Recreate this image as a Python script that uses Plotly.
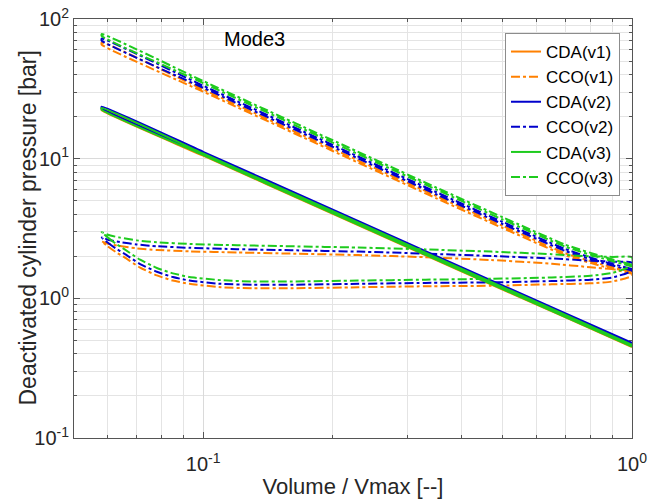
import plotly.graph_objects as go

# ---- data -------------------------------------------------------------
# volume ratio samples for the trapped-gas (CDA) strokes
v_cda = [0.058, 0.1, 0.2, 0.4, 0.7, 1.0]
cda_v1_comp = [22.8, 10.8, 4.17, 1.61, 0.750, 0.460]
cda_v1_exp = [22.2, 10.5, 4.05, 1.56, 0.730, 0.448]
cda_v2_comp = [23.6, 11.2, 4.33, 1.67, 0.780, 0.480]
cda_v2_exp = [22.9, 10.85, 4.19, 1.62, 0.755, 0.465]
cda_v3_comp = [23.1, 10.9, 4.22, 1.63, 0.760, 0.465]
cda_v3_exp = [22.4, 10.6, 4.08, 1.575, 0.735, 0.452]

# volume ratio samples for the CCO high-pressure strokes
v_cco_hp = [0.058, 0.1, 0.2, 0.35, 0.5, 0.7, 0.85, 1.0]
cco_v1_hp_a = [68.0, 31.3, 11.8, 5.40, 3.30, 2.10, 1.75, 1.55]
cco_v1_hp_b = [65.5, 30.2, 11.4, 5.20, 3.18, 2.03, 1.70, 1.50]
cco_v2_hp_a = [72.5, 33.3, 12.6, 5.75, 3.52, 2.25, 1.85, 1.62]
cco_v2_hp_b = [70.0, 32.2, 12.2, 5.55, 3.40, 2.18, 1.80, 1.58]
cco_v3_hp_a = [78.0, 36.0, 13.6, 6.20, 3.80, 2.42, 2.00, 1.74]
cco_v3_hp_b = [75.5, 34.8, 13.1, 6.00, 3.66, 2.34, 1.94, 1.69]

# CCO gas-exchange loop: upper branch (BDC -> TDC) and lower branch (TDC -> BDC)
v_loop_up = [1.0, 0.9, 0.8, 0.65, 0.47, 0.33, 0.23, 0.16, 0.12, 0.093, 0.078, 0.07, 0.064, 0.06, 0.058]
v_loop_low = [0.058, 0.06, 0.0625, 0.0655, 0.0713, 0.078, 0.085, 0.093, 0.11, 0.13, 0.16,
              0.23, 0.33, 0.47, 0.65, 0.8, 0.9, 1.0]
cco_v1_up = [1.58, 1.62, 1.67, 1.77, 1.88, 1.97, 2.04, 2.09, 2.13, 2.17, 2.22, 2.28, 2.37, 2.46, 2.55]
cco_v2_up = [1.80, 1.83, 1.86, 1.93, 2.01, 2.09, 2.16, 2.21, 2.25, 2.30, 2.36, 2.43, 2.53, 2.63, 2.73]
cco_v3_up = [1.97, 1.98, 2.00, 2.07, 2.16, 2.24, 2.31, 2.36, 2.40, 2.45, 2.52, 2.60, 2.72, 2.85, 2.98]
cco_v1_low = [2.55, 2.35, 2.15, 1.97, 1.66, 1.46, 1.34, 1.27, 1.20, 1.18, 1.18, 1.20, 1.22, 1.23, 1.26, 1.28, 1.32, 1.45]
cco_v2_low = [2.73, 2.50, 2.28, 2.09, 1.76, 1.55, 1.42, 1.34, 1.27, 1.25, 1.25, 1.27, 1.29, 1.30, 1.33, 1.36, 1.41, 1.58]
cco_v3_low = [2.98, 2.72, 2.47, 2.25, 1.89, 1.65, 1.51, 1.42, 1.35, 1.32, 1.32, 1.34, 1.36, 1.38, 1.41, 1.45, 1.52, 1.72]

x_major = [0.1, 1]
x_major_text = ["10<sup>-1</sup>", "10<sup>0</sup>"]
y_major = [0.1, 1, 10, 100]
y_major_text = ["10<sup>-1</sup>", "10<sup>0</sup>", "10<sup>1</sup>", "10<sup>2</sup>"]

ORANGE = "#FF8000"
BLUE = "#0000CC"
GREEN = "#1ECB1E"
FONT = "Liberation Sans, Arial, sans-serif"
TEXT = "#262626"
AXIS = "#555555"


def cda_path(comp, exp):
    xs = list(reversed(v_cda)) + v_cda
    ys = list(reversed(comp)) + exp
    return xs, ys


def cco_path(hp_a, hp_b, up, low):
    xs = list(reversed(v_cco_hp)) + v_cco_hp + [None] + v_loop_low + v_loop_up
    ys = list(reversed(hp_a)) + hp_b + [None] + low + up
    return xs, ys


series = [
    ("CDA(v1)", ORANGE, "solid", cda_path(cda_v1_comp, cda_v1_exp)),
    ("CCO(v1)", ORANGE, "dashdot", cco_path(cco_v1_hp_a, cco_v1_hp_b, cco_v1_up, cco_v1_low)),
    ("CDA(v2)", BLUE, "solid", cda_path(cda_v2_comp, cda_v2_exp)),
    ("CCO(v2)", BLUE, "dashdot", cco_path(cco_v2_hp_a, cco_v2_hp_b, cco_v2_up, cco_v2_low)),
    ("CDA(v3)", GREEN, "solid", cda_path(cda_v3_comp, cda_v3_exp)),
    ("CCO(v3)", GREEN, "dashdot", cco_path(cco_v3_hp_a, cco_v3_hp_b, cco_v3_up, cco_v3_low)),
]

fig = go.Figure()
for name, color, dash, (xs, ys) in series:
    fig.add_trace(go.Scatter(
        x=xs, y=ys, name=name, mode="lines",
        line=dict(color=color, width=2, dash=dash, shape="spline", smoothing=0.5),
        connectgaps=False,
    ))

x_minor = [0.05, 0.06, 0.07, 0.08, 0.09, 0.2, 0.3, 0.4, 0.5, 0.6, 0.7, 0.8, 0.9]
y_minor = [m * d for d in (0.1, 1, 10) for m in range(2, 10)]

axis_common = dict(
    type="log", automargin=False,
    showline=True, linecolor=AXIS, linewidth=1, mirror="ticks",
    ticks="inside", ticklen=6, tickcolor=AXIS,
    showgrid=True, gridcolor="#DADADA", gridwidth=1,
    tickfont=dict(family=FONT, size=20, color=TEXT),
    zeroline=False,
)

fig.update_xaxes(
    **axis_common,
    range=[-1.30103, 0],
    tickmode="array", tickvals=x_major, ticktext=x_major_text,
    ticklabelstandoff=8,
    minor=dict(tickmode="array", tickvals=x_minor, ticks="inside", ticklen=3,
               tickcolor=AXIS, showgrid=True, gridcolor="#E4E4E4", griddash="solid"),
    title=dict(text="Volume / Vmax [--]", font=dict(family=FONT, size=22, color=TEXT), standoff=12),
)
fig.update_yaxes(
    **axis_common,
    range=[-1, 2],
    tickmode="array", tickvals=y_major, ticktext=y_major_text,
    minor=dict(tickmode="array", tickvals=y_minor, ticks="inside", ticklen=3,
               tickcolor=AXIS, showgrid=True, gridcolor="#E4E4E4", griddash="solid"),
)

# y-axis label placed as rotated text just left of the tick labels
fig.add_annotation(
    text="Deactivated cylinder pressure [bar]", xref="paper", yref="paper",
    x=-0.0842, y=0.5, xanchor="center", yanchor="middle", textangle=-90,
    showarrow=False, font=dict(family=FONT, size=23, color=TEXT),
)

fig.add_annotation(
    text="Mode3", xref="paper", yref="paper", x=0.3226, y=0.953,
    xanchor="center", yanchor="middle",
    showarrow=False, font=dict(family=FONT, size=20, color="#000000"),
)

fig.update_layout(
    width=648, height=499,
    margin=dict(l=74, r=16, t=19, b=61, autoexpand=False),
    paper_bgcolor="white", plot_bgcolor="white",
    font=dict(family=FONT, color=TEXT),
    showlegend=True,
    legend=dict(
        x=0.9785, y=0.9666, xanchor="right", yanchor="top",
        bgcolor="white", bordercolor="#8C8C8C", borderwidth=1,
        font=dict(family=FONT, size=17, color="#000000"),
        tracegroupgap=0,
    ),
)

fig.write_html("out.html")
